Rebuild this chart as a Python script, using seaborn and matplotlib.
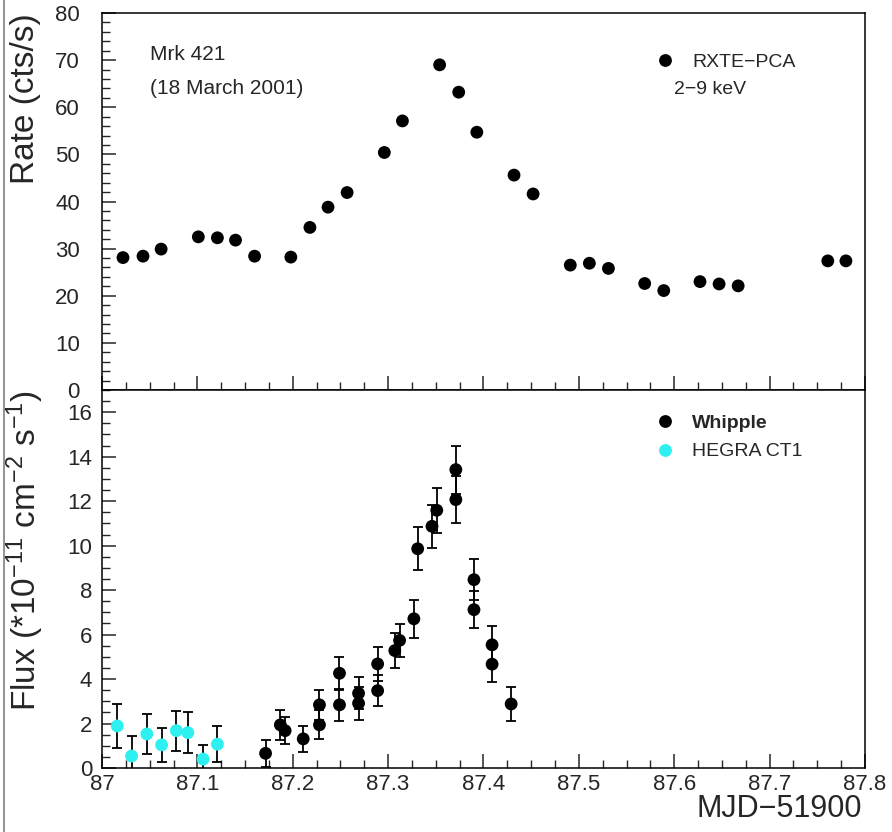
import numpy as np
import pandas as pd
import matplotlib
matplotlib.use("Agg")
import matplotlib.pyplot as plt
from matplotlib import font_manager
from matplotlib.lines import Line2D
import seaborn as sns

# ---------------- data ----------------
rxte_t = [87.022, 87.043, 87.062, 87.101, 87.121, 87.140, 87.160, 87.198, 87.218,
          87.237, 87.257, 87.296, 87.315, 87.354, 87.374, 87.393, 87.432, 87.452,
          87.491, 87.511, 87.531, 87.569, 87.589, 87.627, 87.647, 87.667, 87.761, 87.780]
rxte_rate = [28.1, 28.4, 29.9, 32.5, 32.3, 31.8, 28.4, 28.2, 34.5,
             38.8, 41.9, 50.4, 57.1, 69.0, 63.2, 54.7, 45.6, 41.6,
             26.5, 26.9, 25.8, 22.6, 21.1, 23.0, 22.5, 22.1, 27.4, 27.4]

hegra_t = [87.016, 87.031, 87.047, 87.0625, 87.078, 87.090, 87.106, 87.121]
hegra_flux = [1.89, 0.54, 1.53, 1.04, 1.68, 1.59, 0.40, 1.07]
hegra_err = [1.0, 0.9, 0.88, 0.78, 0.9, 0.93, 0.64, 0.8]

whip_t = [87.1715, 87.187, 87.192, 87.211, 87.228, 87.228, 87.249, 87.249, 87.269,
          87.269, 87.289, 87.289, 87.307, 87.312, 87.327, 87.331, 87.346, 87.351,
          87.371, 87.371, 87.390, 87.390, 87.409, 87.409, 87.429]
whip_flux = [0.66, 1.94, 1.68, 1.31, 1.94, 2.84, 4.26, 2.84, 3.36,
             2.91, 4.68, 3.48, 5.28, 5.74, 6.71, 9.86, 10.87, 11.59,
             13.42, 12.07, 8.47, 7.12, 5.54, 4.67, 2.88]
whip_err = [0.6, 0.67, 0.6, 0.6, 0.65, 0.68, 0.75, 0.72, 0.72,
            0.75, 0.78, 0.7, 0.78, 0.75, 0.86, 0.96, 0.97, 1.0,
            1.08, 1.05, 0.93, 0.83, 0.83, 0.81, 0.75]

instruments = ["Whipple", "HEGRA CT1"]
colors = {"Whipple": "black", "HEGRA CT1": "#2ef0f0"}

# ---------------- style ----------------
sns.set_style("ticks")
names = {f.name for f in font_manager.fontManager.ttflist}
regular = "Liberation Sans" if "Liberation Sans" in names else "DejaVu Sans"
narrow = "Liberation Sans Narrow" if "Liberation Sans Narrow" in names else regular
plt.rcParams["font.family"] = [regular, "DejaVu Sans"]
plt.rcParams["mathtext.default"] = "regular"
plt.rcParams["axes.linewidth"] = 1.1

fig = plt.figure(figsize=(8.92, 8.32), dpi=100)
L, W = 102 / 892, 763 / 892
ax1 = fig.add_axes([L, (832 - 390) / 832, W, 377 / 832])
ax2 = fig.add_axes([L, (832 - 768) / 832, W, 378 / 832], sharex=ax1)

# ---------------- top panel ----------------
df_top = pd.DataFrame({"t": rxte_t, "rate": rxte_rate, "inst": "RXTE\u2212PCA"})
sns.scatterplot(data=df_top, x="t", y="rate", hue="inst", palette=["black"],
                s=85, linewidth=0, ax=ax1, zorder=3)
ax1.set_ylim(0, 80)
ax1.set_yticks(np.arange(0, 81, 10))
ax1.set_yticks(np.arange(0, 81, 2), minor=True)

leg1 = ax1.legend(loc="center left", bbox_to_anchor=(0.725, 0.870), frameon=False,
                  handlelength=1.0, handletextpad=0.9, borderpad=0, borderaxespad=0,
                  fontsize=14, markerscale=1.0)
ax1.text(0.750, 0.796, "2\u22129 keV", transform=ax1.transAxes, fontsize=14,
         ha="left", va="center")
ax1.text(0.063, 0.889, "Mrk 421", transform=ax1.transAxes, fontsize=15,
         ha="left", va="center")
ax1.text(0.063, 0.801, "(18 March 2001)", transform=ax1.transAxes, fontsize=15,
         ha="left", va="center")
ax1.set_ylabel("Rate (cts/s)", fontsize=24, loc="top")
ax1.yaxis.set_label_coords(-0.080, 1.0)
ax1.set_xlabel("")
ax1.tick_params(axis="x", labelbottom=False)

# ---------------- bottom panel ----------------
df_bot = pd.concat([
    pd.DataFrame({"t": whip_t, "flux": whip_flux, "err": whip_err, "inst": "Whipple"}),
    pd.DataFrame({"t": hegra_t, "flux": hegra_flux, "err": hegra_err, "inst": "HEGRA CT1"}),
], ignore_index=True)
ax2.errorbar(df_bot["t"], df_bot["flux"], yerr=df_bot["err"], fmt="none",
             ecolor="black", elinewidth=1.3, capsize=3.6, capthick=1.3, zorder=2)
sns.scatterplot(data=df_bot, x="t", y="flux", hue="inst", hue_order=instruments,
                palette=colors, s=85, linewidth=0, ax=ax2, zorder=3)
ax2.set_ylim(0, 17)
ax2.set_yticks(np.arange(0, 17, 2))
ax2.set_yticks(np.arange(0, 17.01, 0.5), minor=True)
leg2 = ax2.legend(loc="upper left", bbox_to_anchor=(0.725, 0.935), frameon=False,
                  handlelength=1.0, handletextpad=0.9, borderpad=0, borderaxespad=0,
                  fontsize=14, labelspacing=0.55)
leg2.get_texts()[0].set_fontweight("bold")
ax2.set_ylabel("Flux (*10$^{-11}$ cm$^{-2}$ s$^{-1}$)", fontsize=24, loc="top")
ax2.yaxis.set_label_coords(-0.074, 1.0)
ax2.set_xlabel("MJD\u221251900", fontsize=22, loc="right")
ax2.xaxis.set_label_coords(0.996, -0.068)

ax1.set_xlim(87.0, 87.8)
ax2.set_xticks(np.round(np.arange(87.0, 87.81, 0.1), 1))
ax2.set_xticks(np.arange(87.0, 87.801, 0.025), minor=True)
ax2.set_xticklabels([f"{v:g}" for v in np.round(np.arange(87.0, 87.81, 0.1), 1)])

for ax, pad in ((ax1, 16), (ax2, 7)):
    for s in ax.spines.values():
        s.set_visible(True)
        s.set_color("black")
    ax.tick_params(axis="both", which="major", direction="in", length=10, width=1.1,
                   top=False, right=False, labelsize=16)
    ax.tick_params(axis="both", which="minor", direction="in", length=5.5, width=1.0,
                   top=False, right=False)
    ax.tick_params(axis="y", pad=pad)
    for lab in ax.get_yticklabels() + ax.get_xticklabels():
        lab.set_fontfamily([narrow, "DejaVu Sans"])
ax2.tick_params(axis="x", pad=4)

fig.add_artist(Line2D([3.5 / 892, 3.5 / 892], [0, 1], transform=fig.transFigure,
                      color="#808080", linewidth=1.2))

fig.savefig("out.png", dpi=100, facecolor="white")
